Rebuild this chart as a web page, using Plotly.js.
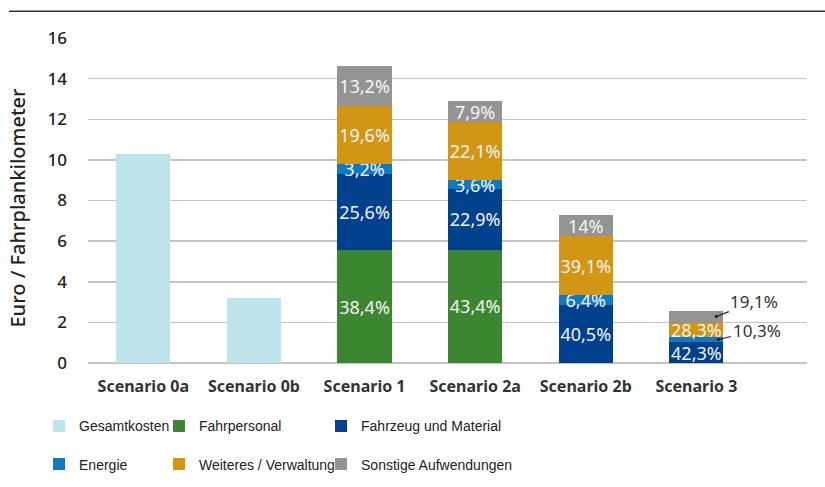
<!DOCTYPE html>
<html>
<head>
<meta charset="utf-8">
<script src="https://cdn.plot.ly/plotly-3.0.1.min.js"></script>
<style>html,body{margin:0;padding:0;background:#fff;}#chart{width:825px;height:487px;}</style>
</head>
<body>
<div id="chart"></div>
<script>
var categories = ['Scenario 0a', 'Scenario 0b', 'Scenario 1', 'Scenario 2a', 'Scenario 2b', 'Scenario 3'];
var stackCats = ['Scenario 1', 'Scenario 2a', 'Scenario 2b', 'Scenario 3'];
var gesamtCats = ['Scenario 0a', 'Scenario 0b'];
var gesamtkosten = [10.3, 3.2];
var fahrpersonal = [5.55, 5.58, null, null];
var fahrzeug = [3.76, 2.97, 2.85, 1.02];
var energie = [0.47, 0.46, 0.52, 0.25];
var weiteres = [2.86, 2.85, 2.86, 0.71];
var sonstige = [1.96, 1.02, 1.06, 0.56];
var lblFahrpersonal = ['38,4%', '43,4%', '', ''];
var lblFahrzeug = ['25,6%', '22,9%', '40,5%', '42,3%'];
var lblEnergie = ['3,2%', '3,6%', '6,4%', ''];
var lblWeiteres = ['19,6%', '22,1%', '39,1%', '28,3%'];
var lblSonstige = ['13,2%', '7,9%', '14%', ''];
var calloutText = ['19,1%', '10,3%'];
var yTitle = 'Euro / Fahrplankilometer';
var tickVals = [0, 2, 4, 6, 8, 10, 12, 14, 16];

var labelFont = {family: 'Noto Sans, sans-serif', size: 18, color: '#f4f4f4'};
function seg(name, y, txt, color, legend) {
  return {
    type: 'bar', name: name, x: stackCats, y: y, text: txt,
    marker: {color: color}, textposition: 'inside', insidetextanchor: 'middle',
    constraintext: 'none', textangle: 0, textfont: labelFont, hoverinfo: 'none',
    legend: legend, legendgroup: name, cliponaxis: false
  };
}
var traces = [
  {type: 'bar', name: 'Gesamtkosten', x: gesamtCats, y: gesamtkosten, marker: {color: '#bee3ea'},
   legend: 'legend', legendgroup: 'Gesamtkosten', hoverinfo: 'none'},
  seg('Fahrpersonal', fahrpersonal, lblFahrpersonal, '#3d8631', 'legend2'),
  seg('Fahrzeug und Material', fahrzeug, lblFahrzeug, '#00418e', 'legend3'),
  seg('Energie', energie, lblEnergie, '#1279c1', 'legend'),
  seg('Weiteres / Verwaltung', weiteres, lblWeiteres, '#d39514', 'legend2'),
  seg('Sonstige Aufwendungen', sonstige, lblSonstige, '#949494', 'legend3')
];

var i3 = 3;
var base3 = fahrzeug[i3] + energie[i3] + weiteres[i3];
function leg(x) {
  return {x: x, xref: 'container', y: 0.1575, yref: 'container', xanchor: 'left', yanchor: 'top',
          orientation: 'v', font: {family: 'Liberation Sans, Arial, sans-serif', size: 14, color: '#222'},
          tracegroupgap: 17, bgcolor: 'rgba(0,0,0,0)', itemclick: false};
}
var layout = {
  width: 825, height: 487,
  margin: {l: 88, r: 18, t: 38, b: 124, autoexpand: false},
  paper_bgcolor: '#fff', plot_bgcolor: '#fff',
  barmode: 'stack', bargap: 0.51,
  showlegend: true,
  legend: leg(0.0473),
  legend2: leg(0.1927),
  legend3: leg(0.3891),
  xaxis: {type: 'category', categoryorder: 'array', categoryarray: categories,
          range: [-0.5, 6.0], showgrid: false, showline: false, ticks: '', zeroline: false,
          ticklabelstandoff: 12, tickangle: 0, automargin: false,
          tickfont: {family: 'Noto Sans, sans-serif', size: 16, color: '#333', weight: 'bold'}},
  yaxis: {range: [0, 16], tickvals: tickVals, ticktext: tickVals.map(String),
          showgrid: true, gridcolor: '#c4c4c4', gridwidth: 1.5, automargin: false,
          zeroline: true, zerolinecolor: '#c4c4c4', zerolinewidth: 1.5,
          showline: false, ticks: '', ticklabelstandoff: 20,
          tickfont: {family: 'Noto Sans, sans-serif', size: 17, color: '#222', weight: 500}},
  shapes: [{type: 'line', xref: 'paper', yref: 'paper', x0: -0.11, x1: 1.03, y0: 1.082, y1: 1.082,
            line: {color: '#333', width: 1.5}}],
  annotations: [
    {x: -0.0987, y: 0.4785, xref: 'paper', yref: 'paper', text: yTitle, textangle: -90,
     showarrow: false, xanchor: 'center', yanchor: 'middle',
     font: {family: 'Noto Sans, sans-serif', size: 20, color: '#222', weight: 500}},
    {x: 5.18, y: base3 + sonstige[i3] * 0.55, xref: 'x', yref: 'y', text: calloutText[0],
     showarrow: true, arrowhead: 6, arrowsize: 0.7, arrowwidth: 1.2, arrowcolor: '#222',
     ax: 38, ay: -15, font: {family: 'Noto Sans, sans-serif', size: 17, color: '#333'}},
    {x: 5.2, y: fahrzeug[i3] + energie[i3] * 0.55, xref: 'x', yref: 'y', text: calloutText[1],
     showarrow: true, arrowhead: 6, arrowsize: 0.7, arrowwidth: 1.2, arrowcolor: '#222',
     ax: 38, ay: -9, font: {family: 'Noto Sans, sans-serif', size: 17, color: '#333'}}
  ]
};
Plotly.newPlot('chart', traces, layout, {displayModeBar: false, staticPlot: true});
</script>
</body>
</html>
